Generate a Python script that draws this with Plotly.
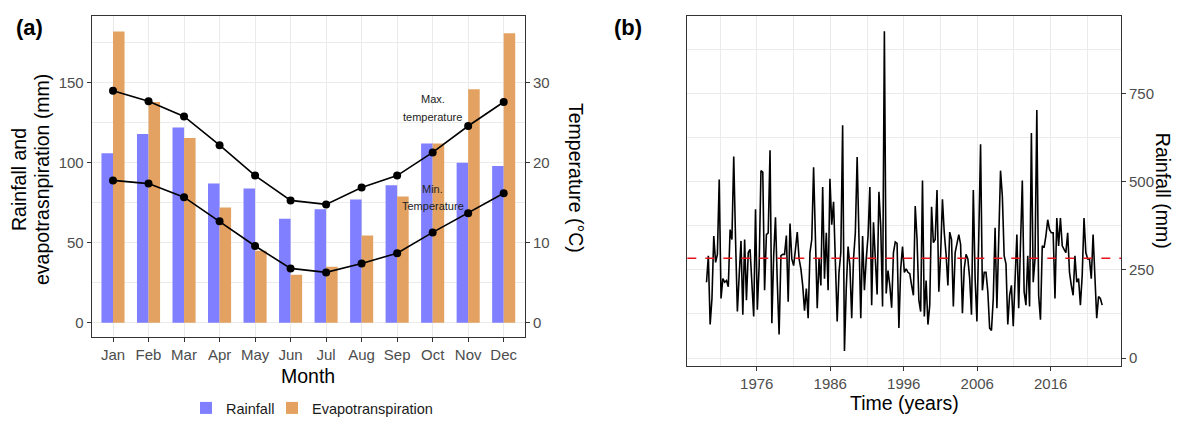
import plotly.graph_objects as go
import pandas as pd

# ---------------- data ----------------
months = ["Jan", "Feb", "Mar", "Apr", "May", "Jun", "Jul", "Aug", "Sep", "Oct", "Nov", "Dec"]
rainfall = [106, 118, 122, 87, 84, 65, 71, 77, 86, 112, 100, 98]
evapotranspiration = [182, 138, 115.5, 72, 45, 30, 35, 54.5, 79, 112, 146, 181]
tmax = [29.0, 27.7, 25.8, 22.2, 18.4, 15.3, 14.8, 16.9, 18.4, 21.3, 24.6, 27.6]
tmin = [17.8, 17.4, 15.7, 12.7, 9.6, 6.8, 6.3, 7.4, 8.7, 11.3, 13.7, 16.2]

seasonal_rain = [
    215, 290, 95, 169, 346, 271, 294, 506, 169, 225,
    215, 220, 202, 364, 336, 571, 336, 132, 234, 332,
    123, 336, 164, 299, 308, 197, 118, 422, 137, 262,
    531, 527, 192, 350, 355, 589, 99, 290, 399, 215,
    67, 290, 294, 294, 347, 160, 381, 281, 262, 308,
    357, 281, 253, 206, 134, 197, 113, 299, 336, 541,
    290, 141, 281, 206, 485, 225, 355, 192, 508, 378,
    443, 281, 104, 243, 299, 660, 20, 197, 316, 262,
    113, 281, 355, 570, 327, 113, 346, 192, 281, 346,
    485, 150, 385, 271, 180, 471, 373, 146, 926, 183,
    248, 206, 143, 299, 329, 325, 85, 253, 316, 243,
    253, 243, 239,
    206, 178, 431, 336, 164, 132, 503, 118, 220, 95,
    150, 429, 327, 336, 476, 188, 294, 450, 355, 294,
    206, 357, 336, 146, 299, 322, 350, 322, 127, 253,
    294, 281, 225, 123, 476, 225, 104, 341, 606, 192,
    243, 243, 188, 85, 78, 169, 369, 141, 346, 531,
    459, 290, 267, 95, 178, 206, 90, 239, 350, 141,
    299, 503, 188, 150, 290, 146, 638, 215, 281, 703,
    178, 109, 318, 313, 346, 392, 364, 355, 355, 169,
    397, 318, 397, 318, 308, 299, 355, 243, 206, 178,
    290, 215, 225, 150, 234, 397, 299, 281, 281, 225,
    350, 215, 113, 174, 169, 150,
]
series_start = "1969-03-01"
series_end = "2023-01-01"
mean_rain = 283

# ---------------- layout helpers ----------------
W, H = 1179, 424
def px(x):
    return x / W
def py(y):
    return 1 - y / H

FONT = "Liberation Sans, Arial, sans-serif"
TICK_COL = "#4d4d4d"
LINE_COL = "#333333"
GRID = "#ebebeb"

dates = pd.date_range(series_start, series_end, periods=len(seasonal_rain))

fig = go.Figure()

fig.add_trace(go.Bar(x=months, y=rainfall, name="Rainfall",
                     marker=dict(color="#7f7fff", line=dict(width=0)),
                     xaxis="x", yaxis="y", legend="legend"))
fig.add_trace(go.Bar(x=months, y=evapotranspiration, name="Evapotranspiration",
                     marker=dict(color="#e3a262", line=dict(width=0)),
                     xaxis="x", yaxis="y", legend="legend2"))
for t in (tmax, tmin):
    fig.add_trace(go.Scatter(x=months, y=t, mode="lines+markers",
                             line=dict(color="black", width=1.6),
                             marker=dict(color="black", size=8),
                             showlegend=False, xaxis="x", yaxis="y2"))

fig.add_trace(go.Scatter(x=dates, y=seasonal_rain, mode="lines",
                         line=dict(color="black", width=1.6),
                         showlegend=False, xaxis="x2", yaxis="y3"))

axis_common = dict(showline=True, linecolor=LINE_COL, linewidth=1, mirror=True,
                   ticks="outside", ticklen=4, tickcolor=LINE_COL,
                   tickfont=dict(family=FONT, size=15, color=TICK_COL),
                   gridcolor=GRID, gridwidth=1, zeroline=False)

legend_common = dict(orientation="h", xanchor="left", y=py(415), yanchor="middle",
                     font=dict(family=FONT, size=14.5, color="#1a1a1a"),
                     itemwidth=30, bgcolor="rgba(0,0,0,0)")

fig.update_layout(
    width=W, height=H,
    margin=dict(l=0, r=0, t=0, b=0),
    paper_bgcolor="white", plot_bgcolor="white",
    font=dict(family=FONT),
    barmode="group", bargap=0.35, bargroupgap=0,
    xaxis=dict(axis_common, type="category", domain=[px(91.7), px(525)],
               range=[-0.6, 11.6], anchor="y", showgrid=True),
    yaxis=dict(axis_common, domain=[py(343), py(16.7)], range=[-9.1, 191.5],
               tickvals=[0, 50, 100, 150], anchor="x",
               minor=dict(dtick=25, tick0=0, showgrid=True, gridcolor=GRID, gridwidth=0.5, ticks="")),
    yaxis2=dict(axis_common, overlaying="y", side="right", range=[-1.82, 38.3],
                tickvals=[0, 10, 20, 30], showgrid=False, anchor="x", mirror=False),
    xaxis2=dict(axis_common, type="date", domain=[px(687.3), px(1121)],
                range=["1966-07-20", "2025-07-25"], anchor="y3",
                tick0="1976-01-01", dtick="M120", tickformat="%Y",
                minor=dict(dtick="M60", tick0="1971-01-01", showgrid=True, gridcolor=GRID, gridwidth=0.5, ticks="")),
    yaxis3=dict(axis_common, domain=[py(372), py(16)], range=[-22, 970],
                side="right", anchor="x2", tickvals=[0, 250, 500, 750],
                minor=dict(dtick=125, tick0=0, showgrid=True, gridcolor=GRID, gridwidth=0.5, ticks="")),
    legend=dict(legend_common, x=px(186)),
    legend2=dict(legend_common, x=px(272)),
    showlegend=True,
)

fig.add_shape(type="line", xref="x2 domain", yref="y3", x0=0, x1=1,
              y0=mean_rain, y1=mean_rain,
              line=dict(color="#e8141c", width=1.6, dash="dash"))

title_font = dict(family=FONT, size=19.5, color="black")
ann = [
    dict(text="<b>(a)</b>", x=px(30), y=py(28), font=dict(family=FONT, size=22, color="black")),
    dict(text="<b>(b)</b>", x=px(628), y=py(28), font=dict(family=FONT, size=22, color="black")),
    dict(text="Month", x=px(308.4), y=py(382), font=title_font),
    dict(text="Time (years)", x=px(904), y=py(410), font=title_font),
    dict(text="Rainfall and", x=px(19), y=py(183), textangle=-90, font=title_font),
    dict(text="evapotrasnpiration (mm)", x=px(42), y=py(183), textangle=-90, font=title_font),
    dict(text="Temperature (°C)", x=px(576), y=py(181), textangle=90, font=title_font),
    dict(text="Rainfall (mm)", x=px(1163), y=py(194), textangle=90, font=title_font),
]
for a in ann:
    fig.add_annotation(xref="paper", yref="paper", showarrow=False,
                       xanchor="center", yanchor="middle", **a)

lab_font = dict(family=FONT, size=11, color="#222222")
for txt, yv in (("Max.", 139.8), ("temperature", 128.6), ("Min.", 83.9), ("Temperature", 72.9)):
    fig.add_annotation(xref="x", yref="y", x="Oct", y=yv, text=txt, showarrow=False,
                       xanchor="center", yanchor="middle", font=lab_font)

fig.write_html("out.html", config={"displayModeBar": False},
               post_script="document.body.style.margin='0';")
